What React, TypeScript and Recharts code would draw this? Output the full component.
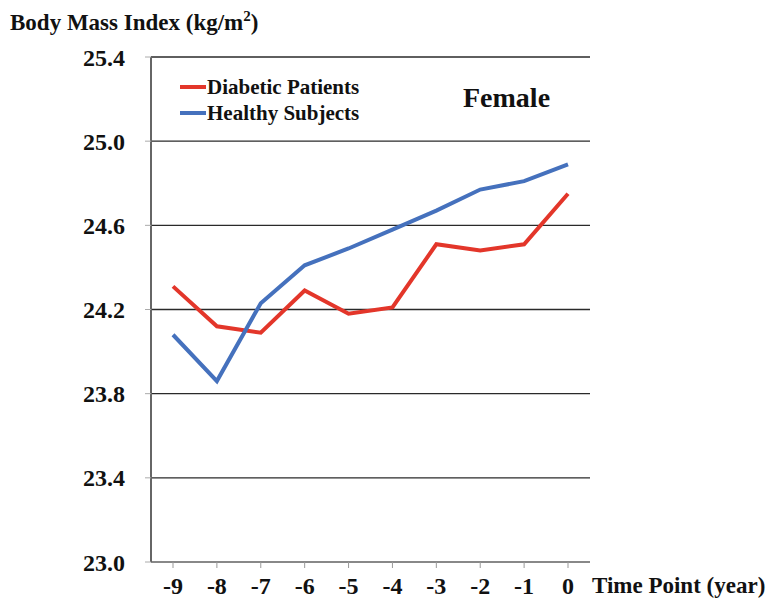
import { CartesianGrid, Line, LineChart, XAxis, YAxis } from "recharts";

const YEARS = ["-9", "-8", "-7", "-6", "-5", "-4", "-3", "-2", "-1", "0"];
const DIABETIC = [24.31, 24.12, 24.09, 24.29, 24.18, 24.21, 24.51, 24.48, 24.51, 24.75];
const HEALTHY = [24.08, 23.86, 24.23, 24.41, 24.49, 24.58, 24.67, 24.77, 24.81, 24.89];
const Y_TICKS = [23.0, 23.4, 23.8, 24.2, 24.6, 25.0, 25.4];

const SERIES = [
  { key: "diabetic", name: "Diabetic Patients", color: "#E3362A" },
  { key: "healthy", name: "Healthy Subjects", color: "#4571BD" },
];

const data = YEARS.map((year, i) => ({
  year,
  diabetic: DIABETIC[i],
  healthy: HEALTHY[i],
}));

const FONT = "'Times New Roman', 'Liberation Serif', serif";

const TICK_STYLE = {
  fontSize: 24,
  fontWeight: 700,
  fill: "#111",
  fontFamily: FONT,
} as const;

export default function App() {
  return (
    <div
      style={{
        position: "absolute",
        left: 0,
        top: 0,
        width: 767,
        height: 599,
        background: "#fff",
        fontFamily: FONT,
        color: "#111",
      }}
    >
      <LineChart
        width={767}
        height={599}
        data={data}
        margin={{ top: 57, right: 177, bottom: 0, left: 0 }}
        style={{ fontFamily: FONT }}
      >
        <CartesianGrid
          yAxisId="left"
          horizontal
          vertical={false}
          stroke="#2a2a2a"
          strokeWidth={1.3}
        />
        <XAxis
          dataKey="year"
          height={37}
          padding={{ left: 22, right: 22 }}
          stroke="#888"
          tickSize={6}
          tickMargin={9}
          tick={TICK_STYLE}
          tickLine={{ stroke: "#999" }}
          axisLine={{ stroke: "#888", strokeWidth: 2 }}
        />
        <YAxis
          yAxisId="left"
          width={151}
          domain={[23, 25.4]}
          ticks={Y_TICKS}
          interval={0}
          tickFormatter={(v: number) => v.toFixed(1)}
          tickSize={6}
          tickMargin={20}
          tick={TICK_STYLE}
          tickLine={{ stroke: "#aaa" }}
          axisLine={{ stroke: "#666", strokeWidth: 2 }}
        />
        <YAxis
          yAxisId="right"
          orientation="right"
          width={0}
          domain={[23, 25.4]}
          tick={false}
          tickLine={false}
          axisLine={{ stroke: "#111", strokeWidth: 1.5 }}
        />
        {SERIES.map((s) => (
          <Line
            key={s.key}
            yAxisId="left"
            type="linear"
            dataKey={s.key}
            name={s.name}
            stroke={s.color}
            strokeWidth={4}
            dot={false}
            isAnimationActive={false}
          />
        ))}
      </LineChart>

      <div
        style={{
          position: "absolute",
          left: 10,
          top: 8,
          fontSize: 23,
          fontWeight: 700,
          whiteSpace: "nowrap",
        }}
      >
        Body Mass Index (kg/m<sup style={{ fontSize: 15 }}>2</sup>)
      </div>

      <div style={{ position: "absolute", left: 180, top: 74 }}>
        {SERIES.map((s) => (
          <div
            key={s.key}
            style={{
              display: "flex",
              alignItems: "center",
              height: 26,
              fontSize: 21,
              fontWeight: 700,
              whiteSpace: "nowrap",
            }}
          >
            <span
              style={{
                display: "inline-block",
                width: 26,
                height: 4,
                background: s.color,
                marginRight: 1,
              }}
            />
            {s.name}
          </div>
        ))}
      </div>

      <div
        style={{
          position: "absolute",
          left: 463,
          top: 82,
          fontSize: 28,
          fontWeight: 700,
        }}
      >
        Female
      </div>

      <div
        style={{
          position: "absolute",
          left: 592,
          top: 573,
          fontSize: 23,
          fontWeight: 700,
          whiteSpace: "nowrap",
        }}
      >
        Time Point (year)
      </div>
    </div>
  );
}
